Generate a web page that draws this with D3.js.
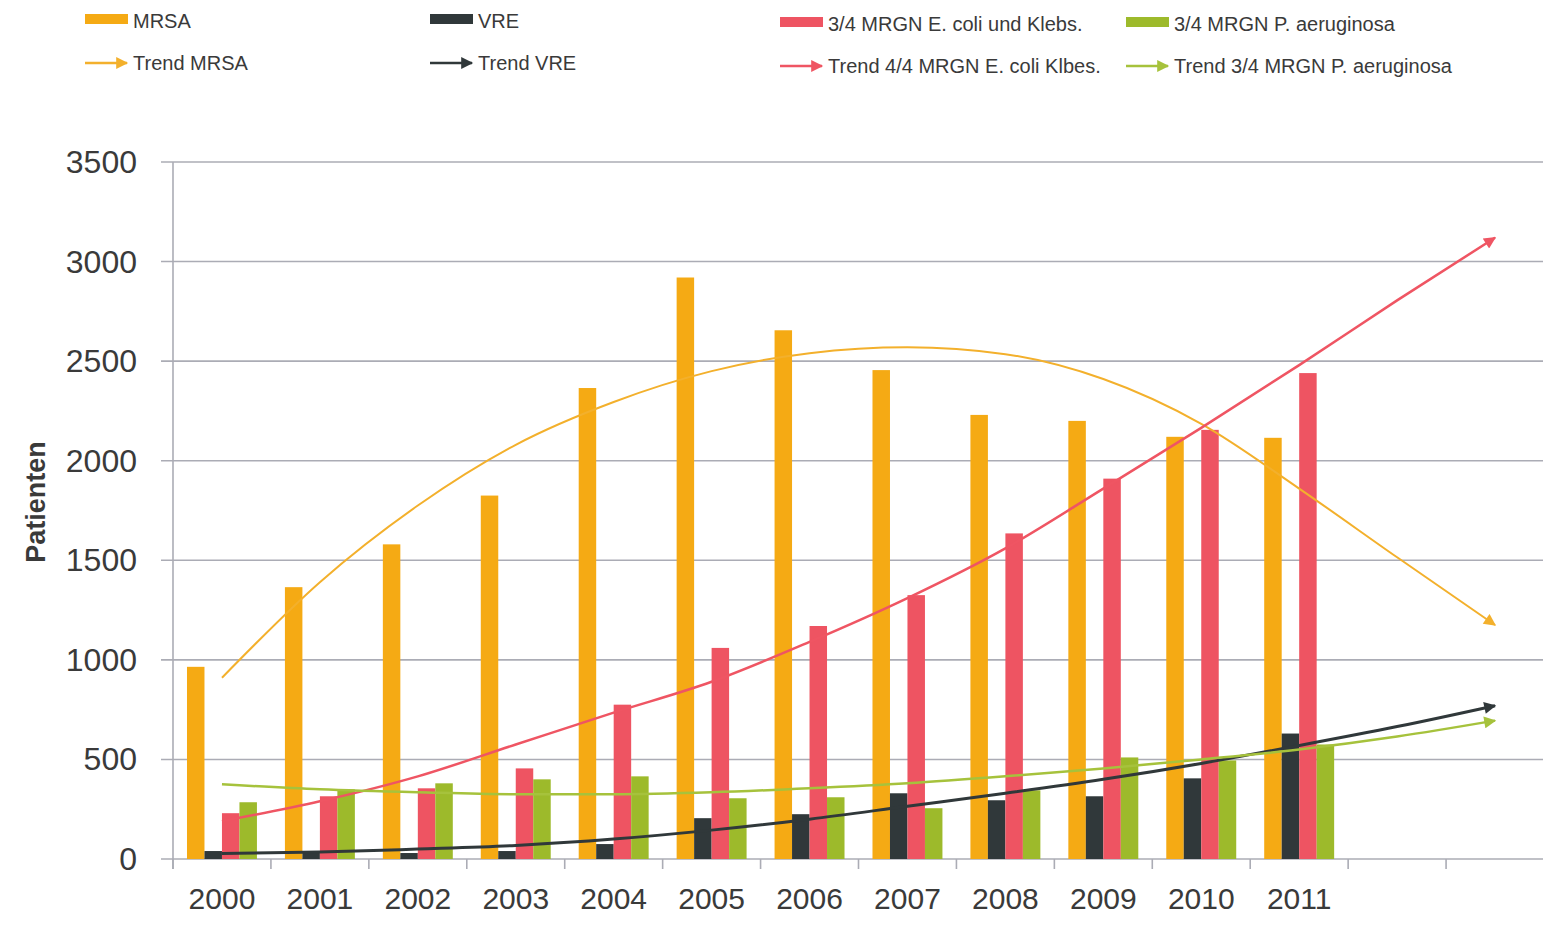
<!DOCTYPE html>
<html>
<head>
<meta charset="utf-8">
<script src="https://cdn.jsdelivr.net/npm/d3@7"></script>
<style>
    body { margin: 0; background: #fff; }
    text { font-family: "Liberation Sans", Arial, sans-serif; fill: #3a3a3a; }
    .tick-label { font-size: 31px; }
    .legend-label { font-size: 20px; }
    .y-title { font-size: 27px; font-weight: bold; }
</style>
</head>
<body>
<div id="chart"></div>
<script>
// Patients with multi-resistant pathogens, 2000-2011, with trend lines to 2013

let width = 1543;
let height = 925;

// Categories (the last two slots only carry the trend lines)
let years = ["2000", "2001", "2002", "2003", "2004", "2005", "2006", "2007",
             "2008", "2009", "2010", "2011", "2012", "2013"];
let yearLabels = ["2000", "2001", "2002", "2003", "2004", "2005", "2006", "2007",
                  "2008", "2009", "2010", "2011", "", ""];

// Bar series (2000-2011)
let mrsa   = [965, 1365, 1580, 1825, 2365, 2920, 2655, 2455, 2230, 2200, 2120, 2115];
let vre    = [40, 35, 30, 40, 75, 205, 225, 330, 295, 315, 405, 630];
let ecoli  = [230, 315, 355, 455, 775, 1060, 1170, 1325, 1635, 1910, 2155, 2440];
let pseudo = [285, 350, 380, 400, 415, 305, 310, 255, 345, 510, 495, 575];

// Trend series (2000-2013)
let trendMrsa   = [910, 1390, 1775, 2080, 2295, 2450, 2540, 2570, 2535, 2410, 2185, 1860, 1515, 1175];
let trendVre    = [28, 35, 50, 68, 100, 145, 200, 265, 330, 400, 480, 570, 665, 770];
let trendEcoli  = [190, 290, 415, 575, 735, 890, 1090, 1310, 1560, 1860, 2165, 2480, 2805, 3120];
let trendPseudo = [375, 350, 335, 325, 325, 335, 355, 380, 415, 455, 500, 550, 615, 695];

// Y axis ticks
let yTicks = [0, 500, 1000, 1500, 2000, 2500, 3000, 3500];

// Legend labels
let barNames   = ["MRSA", "VRE", "3/4 MRGN E. coli und Klebs.", "3/4 MRGN P. aeruginosa"];
let trendNames = ["Trend MRSA", "Trend VRE", "Trend 4/4 MRGN E. coli Klbes.", "Trend 3/4 MRGN P. aeruginosa"];

let barColors   = ["#f5aa14", "#30383a", "#ee5462", "#9dba2b"];
let trendColors = ["#f3b02c", "#30383a", "#ef5563", "#a6c23c"];

let barSeries   = [mrsa, vre, ecoli, pseudo];
let trendSeries = [trendMrsa, trendVre, trendEcoli, trendPseudo];
let trendWidths = [2, 3, 2.5, 2.5];

let svg = d3.select("#chart")
    .append("svg")
    .attr("width", width)
    .attr("height", height);

// Scales
let xScale = d3.scaleBand()
    .domain(years)
    .range([173, 1544]);

let xSub = d3.scaleBand()
    .domain(d3.range(barSeries.length))
    .range([0, xScale.bandwidth()])
    .paddingOuter(0.8);

let yScale = d3.scaleLinear()
    .domain([0, 3500])
    .range([859, 162]);

// Gridlines with short ticks left of the axis
svg.append("g")
    .selectAll("line")
    .data(yTicks)
    .enter()
    .append("line")
    .attr("x1", 161)
    .attr("x2", width)
    .attr("y1", function (d) { return yScale(d); })
    .attr("y2", function (d) { return yScale(d); })
    .attr("stroke", "#abacb5")
    .attr("stroke-width", 1.6);

// Y axis line
svg.append("line")
    .attr("x1", 173).attr("x2", 173)
    .attr("y1", yScale(3500)).attr("y2", yScale(0) + 10)
    .attr("stroke", "#abacb5")
    .attr("stroke-width", 1.6);

// Y tick labels
svg.append("g")
    .selectAll("text")
    .data(yTicks)
    .enter()
    .append("text")
    .attr("class", "tick-label")
    .attr("x", 137)
    .attr("y", function (d) { return yScale(d) + 11; })
    .attr("text-anchor", "end")
    .style("font-size", "32px")
    .text(function (d) { return d; });

// Y axis title
svg.append("text")
    .attr("class", "y-title")
    .attr("transform", "translate(45, 502) rotate(-90)")
    .attr("text-anchor", "middle")
    .text("Patienten");

// X tick marks at the category borders
svg.append("g")
    .selectAll("line")
    .data(years.concat(["end"]))
    .enter()
    .append("line")
    .attr("x1", function (d) { return d === "end" ? 1544 : xScale(d); })
    .attr("x2", function (d) { return d === "end" ? 1544 : xScale(d); })
    .attr("y1", yScale(0))
    .attr("y2", yScale(0) + 10)
    .attr("stroke", "#abacb5")
    .attr("stroke-width", 1.6);

// X axis labels
let xAxis = d3.axisBottom()
    .scale(xScale)
    .tickSize(0)
    .tickPadding(0)
    .tickFormat(function (d, i) { return yearLabels[i]; });

svg.append("g")
    .attr("transform", "translate(0, " + (yScale(0) + 29) + ")")
    .call(xAxis)
    .call(function (g) { g.select(".domain").remove(); })
    .selectAll("text")
    .attr("class", "tick-label")
    .attr("fill", "#3a3a3a")
    .style("font-size", "30px");

// Bars
barSeries.forEach(function (series, s) {
    svg.append("g")
        .selectAll("rect")
        .data(series)
        .enter()
        .append("rect")
        .attr("x", function (d, i) { return xScale(years[i]) + xSub(s); })
        .attr("y", function (d) { return yScale(d); })
        .attr("width", xSub.bandwidth())
        .attr("height", function (d) { return yScale(0) - yScale(d); })
        .attr("fill", barColors[s]);
});

// Arrow markers
let defs = svg.append("defs");
trendColors.forEach(function (c, s) {
    defs.append("marker")
        .attr("id", "arrow" + s)
        .attr("viewBox", "0 0 10 10")
        .attr("refX", 9)
        .attr("refY", 5)
        .attr("markerUnits", "userSpaceOnUse")
        .attr("markerWidth", 14)
        .attr("markerHeight", 12)
        .attr("orient", "auto")
        .append("path")
        .attr("d", "M0,0 L10,5 L0,10 Z")
        .attr("fill", c);
});

// Trend lines
let trendLine = d3.line()
    .x(function (d, i) { return xScale(years[i]) + xScale.bandwidth() / 2; })
    .y(function (d) { return yScale(d); })
    .curve(d3.curveMonotoneX);

trendSeries.forEach(function (series, s) {
    svg.append("path")
        .datum(series)
        .attr("fill", "none")
        .attr("stroke", trendColors[s])
        .attr("stroke-width", trendWidths[s])
        .attr("marker-end", "url(#arrow" + s + ")")
        .attr("d", trendLine);
});

// Legend
let legendX = [85, 430, 780, 1126];
let legendDy = [0, 0, 3, 3];

barNames.forEach(function (name, s) {
    svg.append("rect")
        .attr("x", legendX[s])
        .attr("y", 14 + legendDy[s])
        .attr("width", 43)
        .attr("height", 10)
        .attr("fill", barColors[s]);

    svg.append("text")
        .attr("class", "legend-label")
        .attr("x", legendX[s] + 48)
        .attr("y", 28 + legendDy[s])
        .text(name);
});

trendNames.forEach(function (name, s) {
    svg.append("line")
        .attr("x1", legendX[s])
        .attr("x2", legendX[s] + 42)
        .attr("y1", 63 + legendDy[s])
        .attr("y2", 63 + legendDy[s])
        .attr("stroke", trendColors[s])
        .attr("stroke-width", 2.5)
        .attr("marker-end", "url(#arrow" + s + ")");

    svg.append("text")
        .attr("class", "legend-label")
        .attr("x", legendX[s] + 48)
        .attr("y", 70 + legendDy[s])
        .text(name);
});
</script>
</body>
</html>
